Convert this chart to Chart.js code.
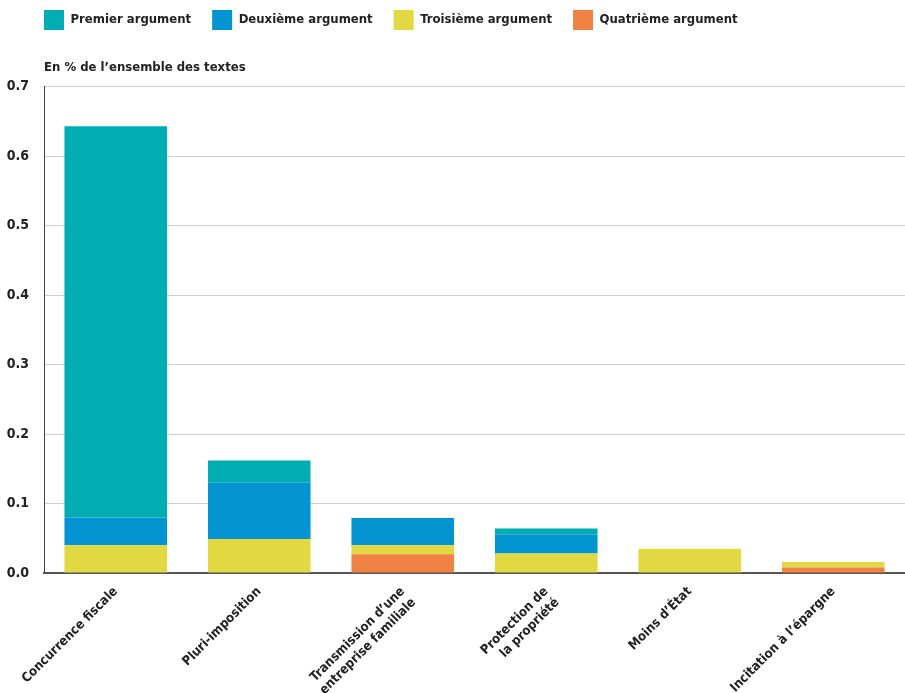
<!DOCTYPE html>
<html>
<head>
<meta charset="utf-8">
<script src="https://cdn.jsdelivr.net/npm/chart.js@4/dist/chart.umd.min.js"></script>
<style>
    body { margin: 0; background: #fff; }
    #wrap { width: 905px; height: 693px; }
</style>
</head>
<body>
<div id="wrap"><canvas id="barChart" width="905" height="693"></canvas></div>
<script>
const categories = [
    'Concurrence fiscale',
    'Pluri-imposition',
    ['Transmission d\u2019une', 'entreprise familiale'],
    ['Protection de', 'la propri\u00e9t\u00e9'],
    'Moins d\u2019\u00c9tat',
    'Incitation \u00e0 l\u2019\u00e9pargne'
];
const premier = [0.563, 0.032, 0, 0.009, 0, 0];
const deuxieme = [0.040, 0.081, 0.039, 0.027, 0, 0];
const troisieme = [0.040, 0.049, 0.013, 0.028, 0.035, 0.008];
const quatrieme = [0, 0, 0.027, 0, 0, 0.008];
const yTicks = [0, 0.1, 0.2, 0.3, 0.4, 0.5, 0.6, 0.7];

const fontFamily = '"DejaVu Sans Condensed", "Roboto", sans-serif';

// bottom of the stack first, legend reversed so Premier comes first
const bar_data = {
    labels: categories,
    datasets: [
        { label: 'Quatri\u00e8me argument', data: quatrieme, backgroundColor: 'rgb(240, 130, 68)' },
        { label: 'Troisi\u00e8me argument', data: troisieme, backgroundColor: 'rgb(226, 217, 66)' },
        { label: 'Deuxi\u00e8me argument', data: deuxieme, backgroundColor: 'rgb(5, 148, 210)' },
        { label: 'Premier argument', data: premier, backgroundColor: 'rgb(0, 173, 178)' }
    ]
};

// nudge the legend right so it lines up with the plot like the original
const legendShift = {
    id: 'legendShift',
    afterLayout: function(chart) {
        chart.legend.left += 23;
        chart.legend.right += 23;
    }
};

const bar_config = {
    type: 'bar',
    data: bar_data,
    plugins: [legendShift],
    options: {
        responsive: false,
        animation: false,
        layout: { padding: { left: 0, right: -3, top: -11, bottom: 0 } },
        datasets: {
            bar: { categoryPercentage: 1, barPercentage: 0.715, borderWidth: 0 }
        },
        plugins: {
            legend: {
                position: 'top',
                align: 'start',
                reverse: true,
                labels: {
                    boxWidth: 20,
                    boxHeight: 20,
                    padding: 21,
                    color: '#222',
                    font: { family: fontFamily, size: 13, weight: 'bold' }
                }
            },
            title: {
                display: true,
                text: 'En % de l\u2019ensemble des textes',
                align: 'start',
                fullSize: false,
                weight: 500,
                color: '#222',
                padding: { top: 20, bottom: 11 },
                font: { family: fontFamily, size: 13, weight: 'bold' }
            },
            tooltip: { enabled: false }
        },
        scales: {
            x: {
                stacked: true,
                afterFit: function(axis) { axis.height = 120; },
                grid: { display: false },
                border: { display: true, color: '#555', width: 2 },
                ticks: {
                    color: '#222',
                    maxRotation: 45,
                    minRotation: 45,
                    font: { family: fontFamily, size: 13, weight: 'bold' }
                }
            },
            y: {
                stacked: true,
                min: 0,
                max: 0.7,
                afterBuildTicks: function(axis) {
                    axis.ticks = yTicks.map(function(v) { return { value: v }; });
                },
                afterFit: function(axis) { axis.width = 44; },
                grid: { color: '#cfcfcf', drawTicks: false },
                border: { display: true, color: '#444', width: 1 },
                ticks: {
                    color: '#222',
                    padding: 15,
                    callback: function(v) { return v.toFixed(1); },
                    font: { family: fontFamily, size: 14, weight: 'bold' }
                }
            }
        }
    }
};

const bar_ctx = document.getElementById('barChart').getContext('2d');
const barChart = new Chart(bar_ctx, bar_config);
</script>
</body>
</html>
